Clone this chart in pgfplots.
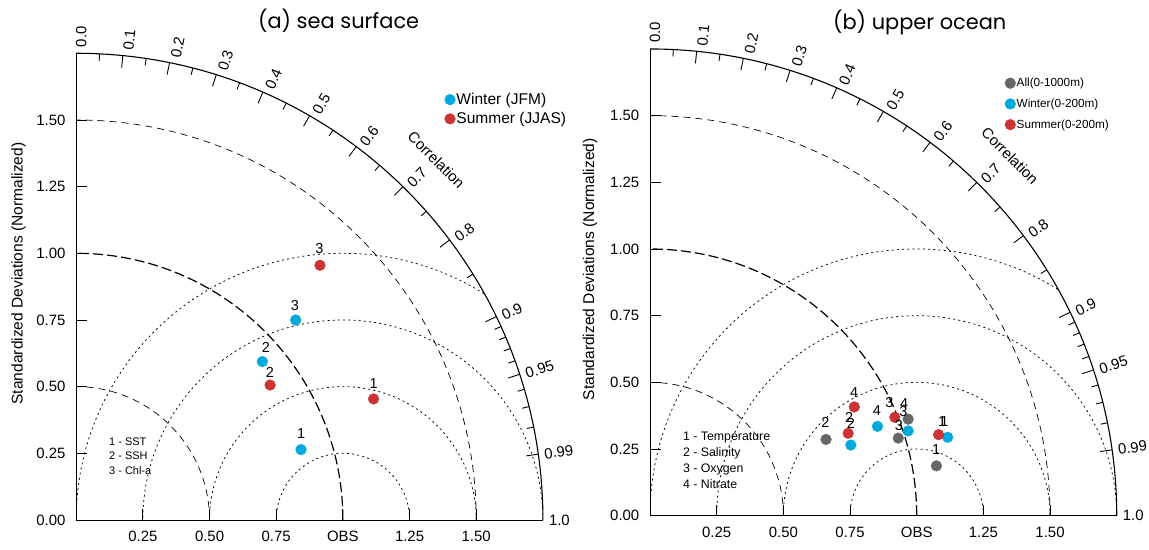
\documentclass[border=0pt]{standalone}
\usepackage{fontspec}
\setmainfont{Liberation Sans}
\newfontfamily\titlefont{Poppins}
\usepackage{pgfplots}
\pgfplotsset{compat=1.18}
\definecolor{cw}{RGB}{0,170,220}
\definecolor{cs}{RGB}{204,51,51}
\definecolor{ca}{RGB}{102,102,102}
\def\U{266.7bp}

\newcommand\taylorgrid{%
  \draw[line width=0.7bp, dash pattern=on 7bp off 5bp] (0.5,0) arc[start angle=0, end angle=90, radius=0.5];
  \draw[line width=1.2bp, dash pattern=on 10bp off 4bp] (1,0) arc[start angle=0, end angle=90, radius=1];
  \draw[line width=0.7bp, dash pattern=on 7bp off 5bp] (1.5,0) arc[start angle=0, end angle=90, radius=1.5];
  \begin{scope}
    \clip (0,0) -- (1.75,0) arc[start angle=0, end angle=90, radius=1.75] -- cycle;
    \foreach \r in {0.25,0.5,0.75,1}{\draw[line width=0.75bp, dash pattern=on 2bp off 3.2bp] (1,0) circle[radius=\r];}
  \end{scope}
}
\newcommand\taylorframe{%
  \draw[line width=1.1bp] (1.75,0) arc[start angle=0, end angle=90, radius=1.75];
  \foreach \c/\l in {0/0.0,0.1/0.1,0.2/0.2,0.3/0.3,0.4/0.4,0.5/0.5,0.6/0.6,0.7/0.7,0.8/0.8,0.9/0.9,0.95/0.95,0.99/0.99,1/1.0}{%
    \pgfmathsetmacro\t{acos(\c)}%
    \pgfmathsetmacro\tt{\t-0.6*sin(\t)}%
    \draw[line width=0.9bp] (\t:1.75) -- (\t:1.705);
    \node[rotate=\t, anchor=west, inner sep=0pt, font=\fontsize{15}{18}\selectfont] at (\tt:1.772) {\l};
  }
  \foreach \c in {0.05,0.15,0.25,0.35,0.45,0.55,0.65,0.75,0.85,0.91,0.92,0.93,0.94,0.96,0.97,0.98}{%
    \pgfmathsetmacro\t{acos(\c)}%
    \draw[line width=0.9bp] (\t:1.75) -- (\t:1.724);
  }
  \node[rotate=-45, inner sep=0pt, font=\fontsize{15}{18}\selectfont] at (1.35,1.35) {Correlation};
}

\pgfplotsset{
  taylor/.style={
    scale only axis, width=466.7bp, height=466.7bp, anchor=south west,
    xmin=0, xmax=1.75, ymin=0, ymax=1.75,
    axis lines=left, axis line style={-, line width=1bp},
    every outer x axis line/.append style={-},
    every outer y axis line/.append style={-},
    clip=false,
    tick align=inside, major tick length=11bp,
    every tick/.style={black, line width=0.9bp},
    xtick={0.25,0.5,0.75,1,1.25,1.5},
    xticklabels={0.25,0.50,0.75,OBS,1.25,1.50},
    ytick={0,0.25,0.5,0.75,1,1.25,1.5},
    yticklabels={0.00,0.25,0.50,0.75,1.00,1.25,1.50},
    minor tick num=0,
    ticklabel style={font=\fontsize{15}{18}\selectfont, inner sep=0pt},
    xticklabel style={yshift=-11bp},
    yticklabel style={xshift=-10.5bp},
    /pgf/number format/assume math mode=true,
    legend cell align=left,
    legend image code/.code={\draw[##1] plot coordinates {(0bp,0bp)};},
    nodes near coords style={anchor=center, inner sep=0pt, text=black, font=\fontsize{14.5}{17}\selectfont},
  },
  dots/.style={only marks, mark=*, mark size=5.4bp, mark options={line width=0.3bp}},
}

\begin{document}
\begin{tikzpicture}
\path[use as bounding box] (0,0) rectangle (1149bp,-550bp);

% ---------- panel (a) ----------
\begin{scope}[shift={(76.2bp,-520bp)}, x=\U, y=\U]
  \taylorgrid
\end{scope}
\begin{axis}[taylor, at={(76.2bp,-520bp)},
  legend style={at={(0.789,0.917)}, anchor=north west, draw=none, fill=none, inner sep=0pt,
    font=\fontsize{15.6}{18}\selectfont, row sep=4.5bp, nodes={inner sep=1bp},
    /tikz/every even column/.append style={column sep=1.5bp}}]
  \addplot[dots, color=cw] coordinates {(0.843,0.264) (0.698,0.594) (0.823,0.750)};
  \addlegendentry{Winter (JFM)}
  \addplot[dots, color=cs] coordinates {(1.115,0.454) (0.727,0.506) (0.914,0.955)};
  \addlegendentry{Summer (JJAS)}
  \addplot[draw=none, mark=none, forget plot, nodes near coords, point meta=explicit symbolic]
    table[x=x, y=y, meta=l] {
    x      y       l
    0.843  0.3225  1
    1.115  0.5125  1
    0.711  0.646   2
    0.726  0.554   2
    0.820  0.8025  3
    0.912  1.0175  3
  };
\end{axis}
\begin{scope}[shift={(76.2bp,-520bp)}, x=\U, y=\U]
  \taylorframe
  \begin{scope}[font=\fontsize{11}{13}\selectfont]
    \node[anchor=base west, inner sep=0pt] at (0.123,0.281) {1 - SST};
    \node[anchor=base west, inner sep=0pt] at (0.123,0.2255) {2 - SSH};
    \node[anchor=base west, inner sep=0pt] at (0.123,0.170) {3 - Chl-a};
  \end{scope}
\end{scope}
\node[font=\titlefont\fontsize{21}{25}\selectfont, anchor=base] at (338.6bp,-28.5bp) {(a) sea surface};
\node[rotate=90, inner sep=0pt, font=\fontsize{15.6}{18}\selectfont] at (18.5bp,-273.5bp) {Standardized Deviations (Normalized)};

% ---------- panel (b) ----------
\begin{scope}[shift={(650bp,-515.7bp)}, x=\U, y=\U]
  \taylorgrid
\end{scope}
\begin{axis}[taylor, at={(650bp,-515.7bp)},
  legend style={at={(0.760,0.940)}, anchor=north west, draw=none, fill=none, inner sep=0pt,
    font=\fontsize{11.8}{14}\selectfont, row sep=8.7bp, nodes={inner sep=1bp},
    /tikz/every even column/.append style={column sep=5.5bp}}]
  \addplot[dots, color=ca] coordinates {(1.074,0.187) (0.660,0.286) (0.931,0.291) (0.968,0.362)};
  \addlegendentry{All(0-1000m)}
  \addplot[dots, color=cw] coordinates {(1.116,0.294) (0.753,0.265) (0.968,0.318) (0.853,0.335)};
  \addlegendentry{Winter(0-200m)}
  \addplot[dots, color=cs] coordinates {(1.082,0.304) (0.743,0.309) (0.918,0.369) (0.766,0.408)};
  \addlegendentry{Summer(0-200m)}
  \addplot[draw=none, mark=none, forget plot, nodes near coords, point meta=explicit symbolic]
    table[x=x, y=y, meta=l] {
    x      y      l
    0.765  0.461  4
    0.658  0.348  2
    0.747  0.369  2
    0.753  0.345  2
    0.851  0.395  4
    0.898  0.424  3
    0.953  0.421  4
    0.950  0.392  3
    0.933  0.338  3
    1.095  0.354  1
    1.104  0.354  1
    1.073  0.248  1
  };
\end{axis}
\begin{scope}[shift={(650bp,-515.7bp)}, x=\U, y=\U]
  \taylorframe
  \begin{scope}[font=\fontsize{12.4}{14}\selectfont]
    \node[anchor=base west, inner sep=0pt] at (0.123,0.283) {1 - Temperature};
    \node[anchor=base west, inner sep=0pt] at (0.123,0.223) {2 - Salinity};
    \node[anchor=base west, inner sep=0pt] at (0.123,0.163) {3 - Oxygen};
    \node[anchor=base west, inner sep=0pt] at (0.123,0.101) {4 - Nitrate};
  \end{scope}
\end{scope}
\node[font=\titlefont\fontsize{21}{25}\selectfont, anchor=base] at (919.7bp,-29bp) {(b) upper ocean};
\node[rotate=90, inner sep=0pt, font=\fontsize{15.6}{18}\selectfont] at (590bp,-269.2bp) {Standardized Deviations (Normalized)};
\end{tikzpicture}
\end{document}
